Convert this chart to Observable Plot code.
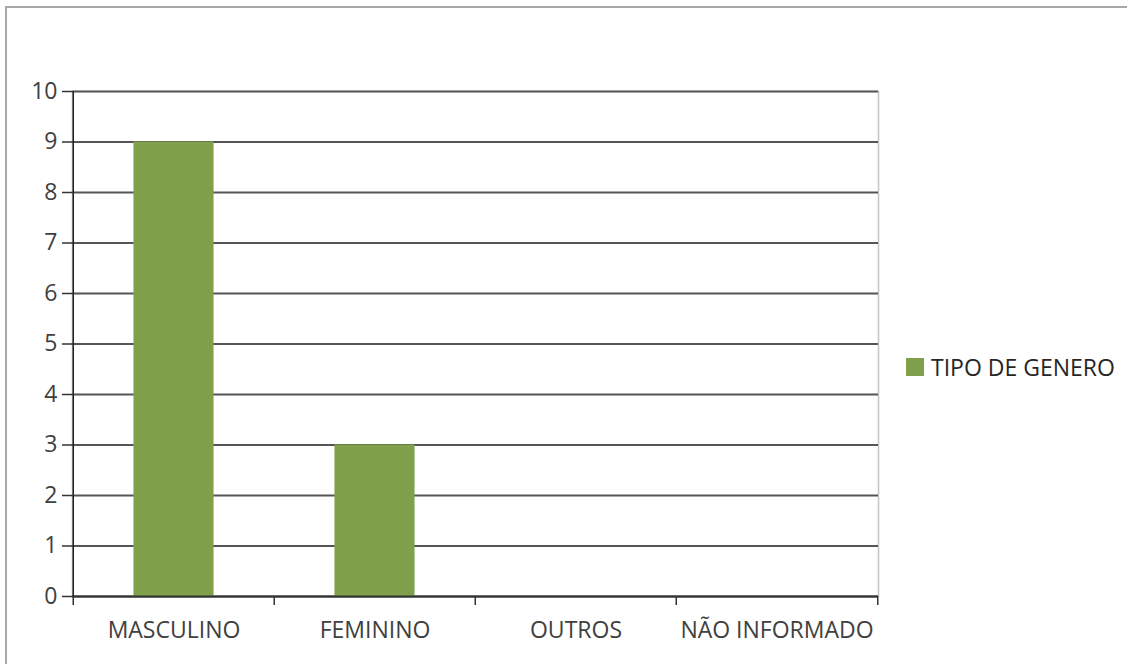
<!DOCTYPE html>
<html><head><meta charset="utf-8">
<script src="https://cdn.jsdelivr.net/npm/d3@7"></script>
<script src="https://cdn.jsdelivr.net/npm/@observablehq/plot@0.6"></script>
<style>
body{margin:0;background:#fff;}
#wrap{position:relative;width:1127px;height:664px;overflow:hidden;font-family:"Open Sans",sans-serif;}
#border{position:absolute;left:5px;top:6px;width:1300px;height:900px;border-left:2px solid #a8a8a8;border-top:2px solid #a8a8a8;}
#chart{position:absolute;left:0;top:0;}
#legend{position:absolute;left:906px;top:353px;display:flex;align-items:center;font-size:23px;color:#262626;line-height:28px;}
#legend .sw{display:inline-block;width:18px;height:18px;background:#80a04b;margin-right:7px;}
</style></head>
<body>
<div id="wrap"><div id="border"></div><div id="chart"></div><div id="legend"></div></div>
<script>
const categories = ["MASCULINO", "FEMININO", "OUTROS", "NÃO INFORMADO"];
const values = [9, 3, 0, 0];
const yTicks = [0, 1, 2, 3, 4, 5, 6, 7, 8, 9, 10];
const seriesName = "TIPO DE GENERO";

const data = categories.map((c, i) => ({category: c, value: values[i]}));
const W = 1127, H = 664, mL = 72, mR = 249, mT = 91, mB = 68;
const step = (W - mL - mR) / categories.length;

const chart = Plot.plot({
  width: W, height: H,
  marginLeft: mL, marginRight: mR, marginTop: mT, marginBottom: mB,
  style: {fontFamily: "Open Sans", fontSize: "23px", color: "#404040", background: "transparent", overflow: "visible"},
  x: {domain: categories, padding: 0},
  y: {domain: [0, 10]},
  marks: [
    Plot.frame({stroke: "#c4c4c4", strokeWidth: 1.5}),
    Plot.gridY(yTicks, {stroke: "#555", strokeOpacity: 1, strokeWidth: 2}),
    Plot.barY(data, {x: "category", y: "value", fill: "#80a04b", insetLeft: step * 0.3, insetRight: step * 0.3}),
    Plot.ruleY([0], {stroke: "#333", strokeWidth: 2}),
    Plot.ruleX([categories[0]], {dx: -step / 2, y1: 0, y2: 10, stroke: "#222", strokeWidth: 1.5}),
    Plot.axisY(yTicks, {tickSize: 10, tickPadding: 5, tickFormat: d3.format("d"), stroke: "#333", fill: "#404040", label: null, strokeWidth: 1.5}),
    Plot.axisX({tickSize: 0, tickPadding: 25, label: null, fill: "#404040"}),
    Plot.axisX({tickSize: 9, tickFormat: () => "", dx: -step / 2, label: null, stroke: "#333", strokeWidth: 1.5}),
    Plot.axisX([categories[categories.length - 1]], {tickSize: 9, tickFormat: () => "", dx: step / 2, label: null, stroke: "#333", strokeWidth: 1.5})
  ]
});
document.getElementById("chart").appendChild(chart);
document.getElementById("legend").innerHTML = `<span class="sw"></span><span>${seriesName}</span>`;
</script>
</body></html>
